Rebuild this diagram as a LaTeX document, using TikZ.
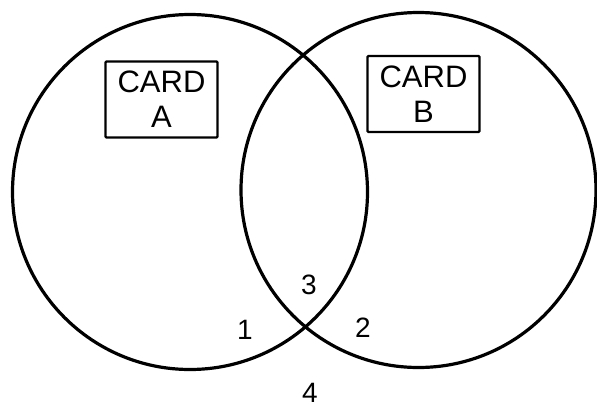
\documentclass[tikz,border=0pt]{standalone}
\usepackage{fontspec}
\setmainfont{Liberation Sans}
\usetikzlibrary{shapes}

\begin{document}
\begin{tikzpicture}[x=1pt,y=-1pt]
\tikzset{
	setcircle/.style={draw,
		shape=circle,
		line width=3.2pt,
		minimum size=355pt,
		inner sep=0pt
	},
	cardbox/.style={draw,
		line width=2.2pt,
		rounded corners=1pt,
		minimum width=112pt,
		minimum height=76pt,
		align=center,
		font=\fontsize{31}{35}\selectfont
	},
	region/.style={font=\fontsize{28}{30}\selectfont}
}
\useasboundingbox (0,0) rectangle (597,413);

\node[setcircle] (SetA) at (190,192) {};
\node[setcircle] (SetB) at (418.5,190) {};

\node[cardbox] (CardA) at (161.5,99.5) {CARD\\A};
\node[cardbox] (CardB) at (423.5,94) {CARD\\B};

\node[region] (RegOne) at (245,330) {1};
\node[region] (RegTwo) at (363,328) {2};
\node[region] (RegThree) at (309,285) {3};
\node[region] (RegFour) at (310,393) {4};
\end{tikzpicture}
\end{document}
